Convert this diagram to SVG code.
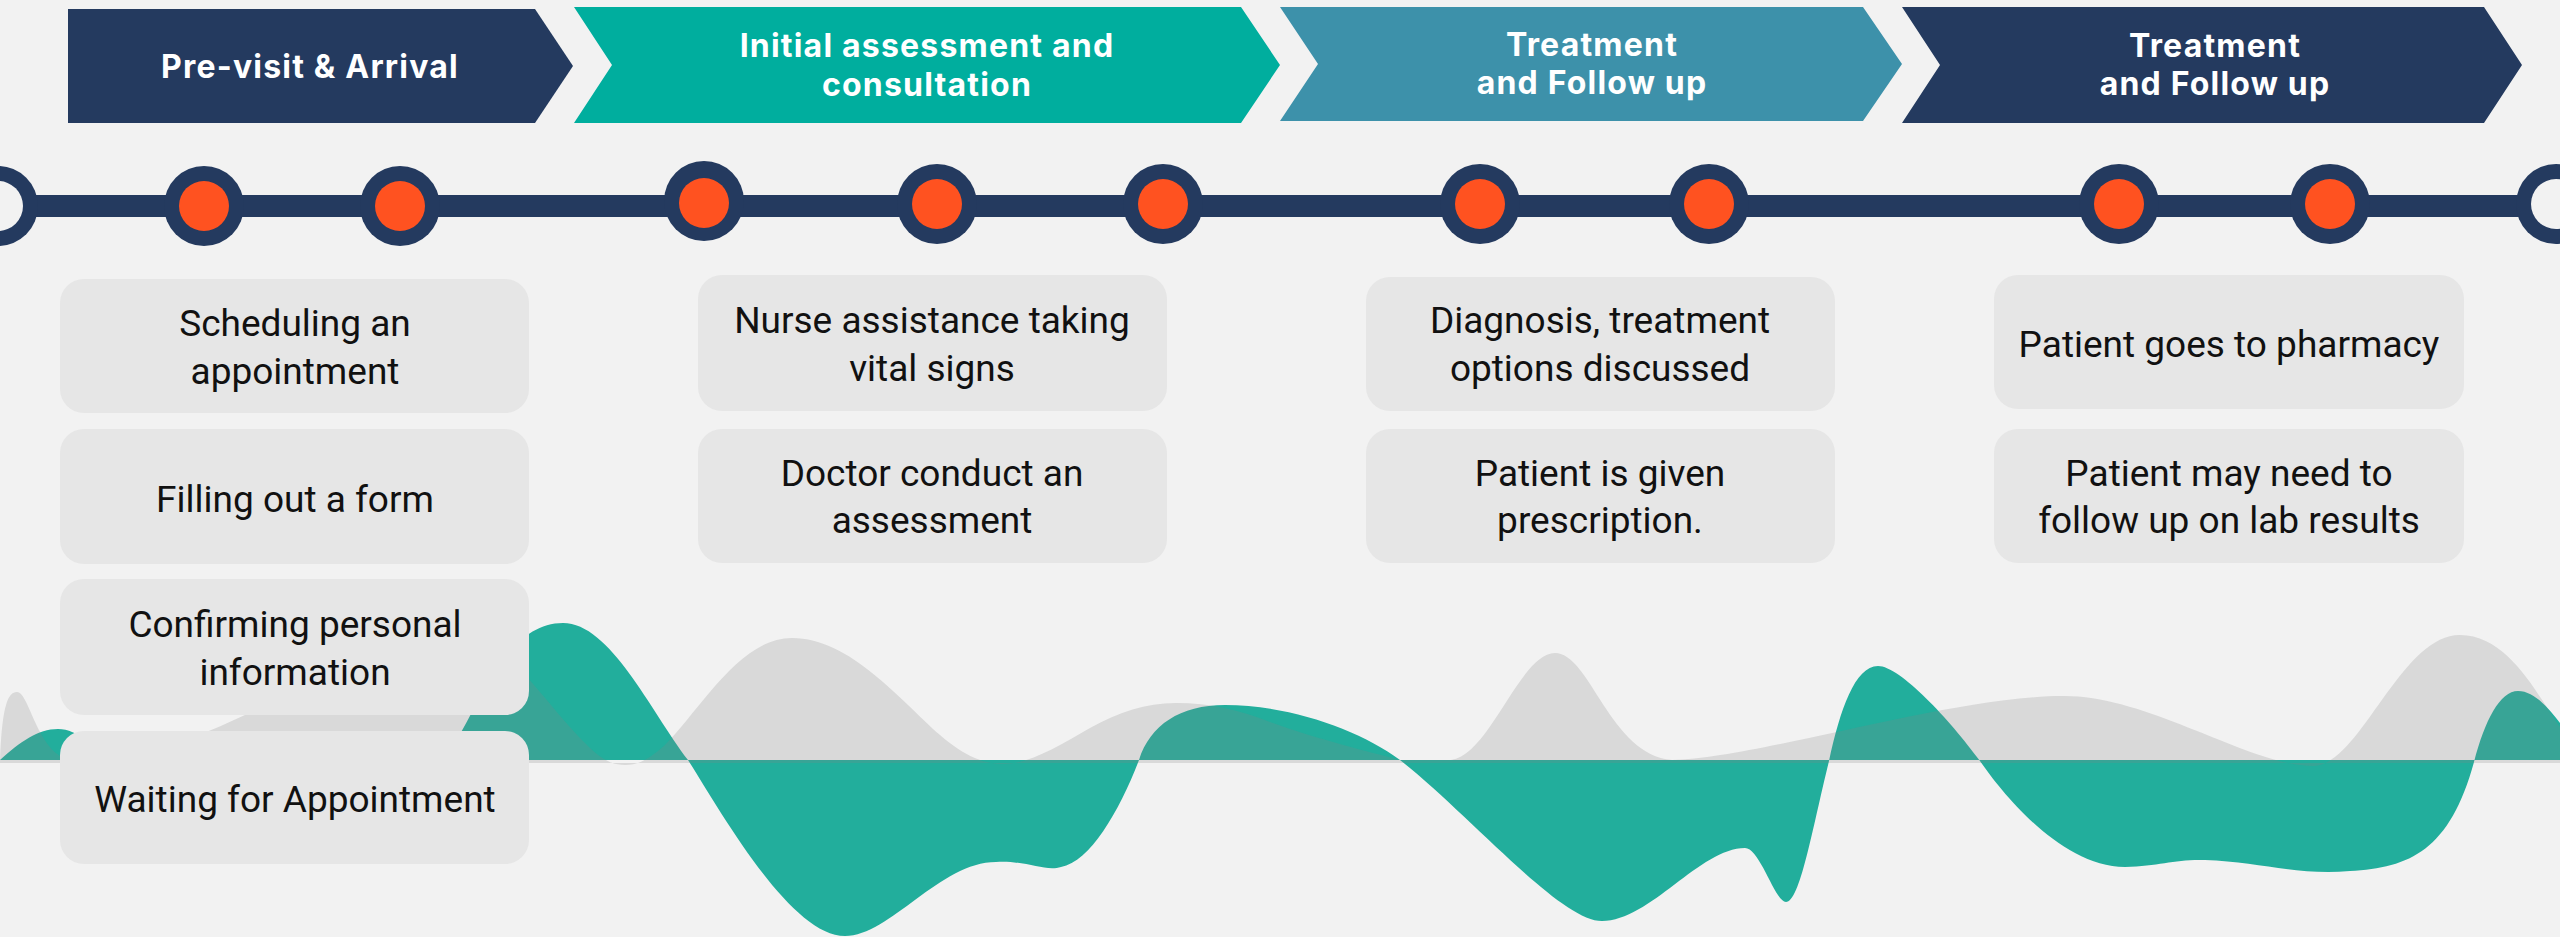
<svg xmlns="http://www.w3.org/2000/svg" width="2560" height="937" viewBox="0 0 2560 937">
<style>
.box{fill:#e6e6e6}
.bt{font-family:Roboto,"Liberation Sans",sans-serif;font-size:37px;fill:#111;text-anchor:middle}
.hd{font-family:Inter,"Liberation Sans",sans-serif;font-weight:700;font-size:32px;letter-spacing:1.2px;fill:#fff;text-anchor:middle}
.ring{fill:#243a5f}
.dot{fill:#ff5220}
.hole{fill:#f2f2f2}
</style>
<rect width="2560" height="937" fill="#f2f2f2"/>
<g id="waves">
<path fill="#22ae9c" d="M0,760 C20,742 38,729 58,729 C78,729 95,748 120,760 L440,760 C470,740 495,623 563,623 C610,623 650,710 688,760 C720,810 790,936 845,936 C890,936 940,862 996,862 C1025,860 1045,872 1061,867 C1090,862 1120,810 1139,760 C1150,725 1180,705 1225,705 C1290,705 1360,730 1400,760 C1470,815 1560,921 1602,921 C1650,921 1700,848 1745,848 C1760,848 1775,902 1786,902 C1800,902 1812,830 1829,761 C1840,710 1855,666 1878,666 C1900,666 1950,720 1980,761 C2000,790 2060,867 2125,867 C2160,866 2175,859 2205,860 C2260,862 2300,876 2350,871 C2410,868 2450,850 2474,762 C2485,720 2500,691 2518,691 C2535,691 2550,710 2560,723 L2560,760 Z"/>
<path fill="#838383" fill-opacity="0.226" d="M0,762 C2,705 8,692 17,692 C28,692 35,740 60,756 C90,762 120,760 150,752 C185,742 210,731 245,715 C320,680 390,625 445,625 C500,625 540,700 590,748 C605,762 615,765 625,765 C640,765 650,758 665,745 C700,710 740,638 792,638 C850,638 900,700 940,735 C965,757 985,764 1004,764 C1030,764 1060,745 1090,728 C1120,712 1145,703 1176,703 C1210,703 1240,710 1270,722 C1320,740 1370,752 1400,760 L1451,760 C1490,755 1520,653 1555,653 C1590,653 1610,755 1672,760 C1760,758 1950,696 2064,696 C2150,696 2250,766 2313,766 C2360,766 2400,635 2460,635 C2510,635 2540,700 2560,727 L2560,763 L0,763 Z"/>
</g>
<g id="connectors">
<rect x="0" y="195" width="2560" height="22" fill="#243a5f"/>
</g>
<g id="banner-1"><polygon fill="#243a5f" points="68,9 535,9 573,66 535,123 68,123"/><text class="hd" x="310" y="78">Pre-visit &amp; Arrival</text></g>
<g id="banner-2"><polygon fill="#00ae9e" points="574,7 1241,7 1280,65 1241,123 574,123 612,65"/><text class="hd" x="927" y="57">Initial assessment and</text><text class="hd" x="927" y="96">consultation</text></g>
<g id="banner-3"><polygon fill="#3d91aa" points="1280,7 1863,7 1902,64 1863,121 1280,121 1318,64"/><text class="hd" x="1592" y="56">Treatment</text><text class="hd" x="1592" y="94">and Follow up</text></g>
<g id="banner-4"><polygon fill="#243a5f" points="1902,7 2484,7 2522,65 2484,123 1902,123 1940,65"/><text class="hd" x="2215" y="57">Treatment</text><text class="hd" x="2215" y="95">and Follow up</text></g>
<g id="point-0"><circle class="ring" cx="-2" cy="206" r="40"/><circle class="hole" cx="-2" cy="206" r="25"/></g>
<g id="point-1"><circle class="ring" cx="204" cy="206" r="40"/><circle class="dot" cx="204" cy="206" r="25"/></g>
<g id="point-2"><circle class="ring" cx="400" cy="206" r="40"/><circle class="dot" cx="400" cy="206" r="25"/></g>
<g id="point-3"><circle class="ring" cx="704" cy="201" r="40"/><circle class="dot" cx="704" cy="203" r="25"/></g>
<g id="point-4"><circle class="ring" cx="937" cy="204" r="40"/><circle class="dot" cx="937" cy="204" r="25"/></g>
<g id="point-5"><circle class="ring" cx="1163" cy="204" r="40"/><circle class="dot" cx="1163" cy="204" r="25"/></g>
<g id="point-6"><circle class="ring" cx="1480" cy="204" r="40"/><circle class="dot" cx="1480" cy="204" r="25"/></g>
<g id="point-7"><circle class="ring" cx="1709" cy="204" r="40"/><circle class="dot" cx="1709" cy="204" r="25"/></g>
<g id="point-8"><circle class="ring" cx="2119" cy="204" r="40"/><circle class="dot" cx="2119" cy="204" r="25"/></g>
<g id="point-9"><circle class="ring" cx="2330" cy="204" r="40"/><circle class="dot" cx="2330" cy="204" r="25"/></g>
<g id="point-10"><circle class="ring" cx="2556" cy="204" r="40"/><circle class="hole" cx="2556" cy="204" r="25"/></g>
<g id="box-scheduling"><rect class="box" x="60" y="279" width="469" height="134" rx="24"/><text class="bt" x="295" y="336">Scheduling an</text><text class="bt" x="295" y="384">appointment</text></g>
<g id="box-form"><rect class="box" x="60" y="429" width="469" height="135" rx="24"/><text class="bt" x="295" y="512">Filling out a form</text></g>
<g id="box-confirming"><rect class="box" x="60" y="579" width="469" height="136" rx="24"/><text class="bt" x="295" y="637">Confirming personal</text><text class="bt" x="295" y="685">information</text></g>
<g id="box-waiting"><rect class="box" x="60" y="731" width="469" height="133" rx="24"/><text class="bt" x="295" y="812">Waiting for Appointment</text></g>
<g id="box-nurse"><rect class="box" x="698" y="275" width="469" height="136" rx="24"/><text class="bt" x="932" y="333">Nurse assistance taking</text><text class="bt" x="932" y="381">vital signs</text></g>
<g id="box-doctor"><rect class="box" x="698" y="429" width="469" height="134" rx="24"/><text class="bt" x="932" y="486">Doctor conduct an</text><text class="bt" x="932" y="533">assessment</text></g>
<g id="box-diagnosis"><rect class="box" x="1366" y="277" width="469" height="134" rx="24"/><text class="bt" x="1600" y="333">Diagnosis, treatment</text><text class="bt" x="1600" y="381">options discussed</text></g>
<g id="box-prescription"><rect class="box" x="1366" y="429" width="469" height="134" rx="24"/><text class="bt" x="1600" y="486">Patient is given</text><text class="bt" x="1600" y="533">prescription.</text></g>
<g id="box-pharmacy"><rect class="box" x="1994" y="275" width="470" height="134" rx="24"/><text class="bt" x="2229" y="357">Patient goes to pharmacy</text></g>
<g id="box-lab"><rect class="box" x="1994" y="429" width="470" height="134" rx="24"/><text class="bt" x="2229" y="486">Patient may need to</text><text class="bt" x="2229" y="533">follow up on lab results</text></g>
</svg>
